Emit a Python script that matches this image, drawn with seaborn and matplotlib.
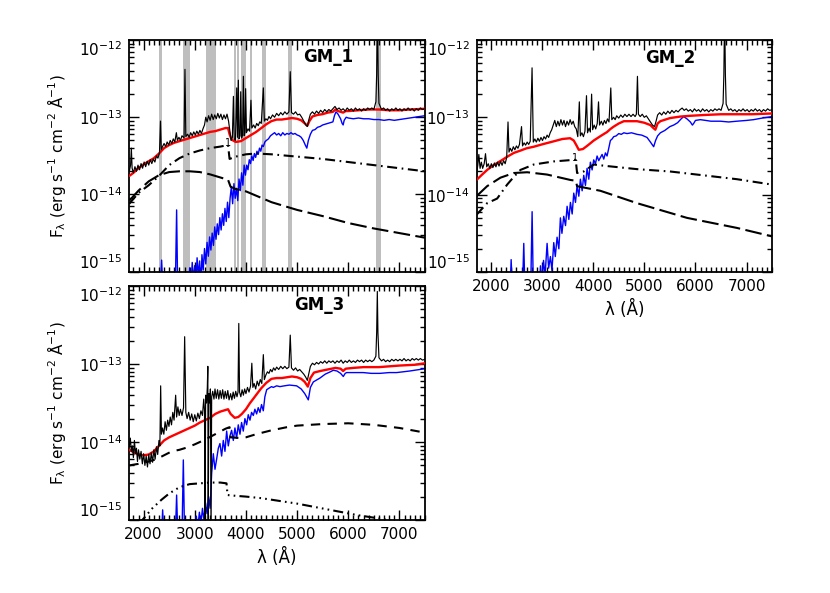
import numpy as np
import pandas as pd
import matplotlib
matplotlib.use("Agg")
import matplotlib.pyplot as plt
import seaborn as sns
from matplotlib.ticker import MultipleLocator, FixedLocator, NullFormatter

# ---------------- data (wavelength in Angstrom, log10 flux) ----------------
panel_names = ["GM_1", "GM_2", "GM_3"]
xlim = (1720, 7500)
ylim = (1e-15, 1e-12)
xticks = [2000, 3000, 4000, 5000, 6000, 7000]
ytick_exps = [-15, -14, -13, -12]

# masked regions (panel GM_1)
mask_bands = [(2300, 2350), (2760, 2900), (3210, 3410), (3760, 3800), (3830, 3870),
              (3895, 4000), (4080, 4115), (4310, 4400), (4815, 4910), (6540, 6635)]

gm1_obs = [(1720,-13.70),(1745,-13.62),(1760,-13.40),(1775,-13.66),(1800,-13.72),(1830,-13.64),(1860,-13.70),
    (1890,-13.62),(1920,-13.68),(1950,-13.60),(1980,-13.66),(2010,-13.58),(2040,-13.64),(2070,-13.57),
    (2100,-13.62),(2130,-13.55),(2160,-13.60),(2190,-13.54),(2220,-13.58),(2250,-13.50),(2280,-13.53),
    (2310,-13.46),(2330,-13.05),(2345,-13.42),(2370,-13.38),(2400,-13.34),(2430,-13.38),(2460,-13.32),
    (2490,-13.36),(2520,-13.30),(2550,-13.34),(2580,-13.28),(2610,-13.32),(2640,-13.20),(2660,-13.30),
    (2690,-13.26),(2720,-13.30),(2750,-13.24),(2790,-13.27),(2808,-12.38),(2825,-13.25),(2860,-13.22),
    (2890,-13.26),(2920,-13.20),(2950,-13.24),(2980,-13.19),(3010,-13.23),(3040,-13.18),(3070,-13.22),
    (3100,-13.17),(3130,-13.21),(3160,-13.15),(3190,-13.10),(3215,-13.00),(3240,-13.06),(3270,-12.98),
    (3300,-13.04),(3330,-12.96),(3360,-13.03),(3390,-12.97),(3420,-13.02),(3450,-12.95),(3480,-13.01),
    (3510,-12.96),(3540,-13.03),(3570,-12.97),(3600,-13.02),(3630,-12.96),(3660,-13.05),(3690,-13.20),
    (3710,-13.30),(3735,-13.26),(3755,-12.73),(3770,-13.28),(3795,-13.30),(3820,-12.62),(3835,-13.26),
    (3852,-12.52),(3865,-13.28),(3885,-13.24),(3898,-12.67),(3915,-13.27),(3935,-13.22),(3950,-12.47),
    (3965,-13.24),(3980,-13.20),(3994,-12.63),(4010,-13.20),(4040,-13.15),(4070,-13.18),(4098,-12.78),
    (4115,-13.14),(4150,-13.10),(4180,-13.14),(4210,-13.08),(4240,-13.11),(4270,-13.06),(4300,-13.08),
    (4340,-12.62),(4360,-13.05),(4390,-13.02),(4420,-13.04),(4450,-12.99),(4480,-13.02),(4520,-12.97),
    (4560,-13.00),(4600,-12.95),(4640,-12.98),(4680,-12.94),(4720,-12.97),(4760,-12.93),(4800,-12.96),
    (4840,-12.93),(4866,-12.41),(4890,-12.94),(4930,-12.96),(4970,-12.93),(5010,-12.97),(5050,-12.96),
    (5090,-13.00),(5130,-13.05),(5170,-13.10),(5200,-13.12),(5230,-13.03),(5260,-12.96),(5300,-12.93),
    (5340,-12.96),(5380,-12.92),(5420,-12.95),(5460,-12.91),(5500,-12.94),(5540,-12.90),(5580,-12.93),
    (5620,-12.90),(5660,-12.92),(5700,-12.89),(5740,-12.86),(5780,-12.90),(5820,-12.88),(5860,-12.91),
    (5900,-12.89),(5940,-12.92),(5980,-12.88),(6020,-12.91),(6060,-12.89),(6100,-12.92),(6140,-12.88),
    (6180,-12.91),(6220,-12.89),(6260,-12.92),(6300,-12.89),(6340,-12.91),(6380,-12.88),(6420,-12.90),
    (6460,-12.88),(6500,-12.90),(6540,-12.80),(6555,-12.45),(6565,-11.90),(6575,-11.90),(6585,-12.45),
    (6600,-12.82),(6650,-12.90),(6690,-12.88),(6730,-12.91),(6770,-12.89),(6810,-12.92),(6850,-12.89),
    (6890,-12.91),(6930,-12.88),(6970,-12.91),(7010,-12.89),(7050,-12.92),(7090,-12.89),(7130,-12.91),
    (7170,-12.88),(7210,-12.91),(7250,-12.89),(7290,-12.92),(7330,-12.89),(7370,-12.91),(7410,-12.88),
    (7450,-12.90),(7500,-12.89)]

gm1_model = [(1720,-13.76),(1800,-13.72),(1900,-13.66),(2000,-13.61),(2100,-13.57),(2200,-13.53),(2300,-13.47),
    (2400,-13.40),(2500,-13.36),(2600,-13.33),(2700,-13.31),(2800,-13.29),(2900,-13.27),(3000,-13.25),
    (3100,-13.23),(3200,-13.21),(3300,-13.19),(3400,-13.18),(3500,-13.16),(3600,-13.14),(3650,-13.14),
    (3680,-13.22),(3720,-13.29),(3800,-13.32),(3900,-13.31),(4000,-13.27),(4100,-13.23),(4200,-13.19),
    (4300,-13.14),(4400,-13.09),(4500,-13.05),(4600,-13.03),(4700,-13.03),(4800,-13.02),(4900,-13.01),
    (5000,-13.02),(5080,-13.04),(5150,-13.08),(5200,-13.11),(5240,-13.05),(5300,-12.99),(5400,-12.97),
    (5500,-12.96),(5600,-12.94),(5700,-12.93),(5750,-12.90),(5800,-12.92),(5900,-12.94),(5950,-12.92),
    (6000,-12.92),(6200,-12.91),(6400,-12.90),(6600,-12.90),(6800,-12.91),(7000,-12.91),(7200,-12.90),
    (7500,-12.89)]

gm1_stars = [(2330,-15.2),(2352,-14.85),(2375,-15.2),(2620,-15.2),(2645,-14.20),(2665,-15.2),(2880,-15.2),
    (2900,-14.95),(2925,-15.2),(2950,-14.88),(2975,-15.10),(3000,-14.92),(3020,-15.2),(3045,-14.82),
    (3070,-15.05),(3095,-14.86),(3120,-15.2),(3140,-14.78),(3165,-14.98),(3190,-14.70),(3215,-14.90),
    (3240,-14.62),(3265,-14.80),(3290,-14.55),(3315,-14.72),(3340,-14.50),(3365,-14.66),(3390,-14.42),
    (3415,-14.58),(3440,-14.38),(3465,-14.52),(3490,-14.30),(3515,-14.46),(3540,-14.25),(3565,-14.40),
    (3590,-14.18),(3615,-14.35),(3640,-14.10),(3665,-14.30),(3690,-14.05),(3715,-13.90),(3740,-14.12),
    (3765,-13.86),(3790,-14.05),(3815,-13.92),(3840,-14.08),(3865,-13.80),(3890,-13.95),(3915,-13.72),
    (3940,-13.88),(3965,-13.62),(3990,-13.75),(4015,-13.62),(4040,-13.68),(4065,-13.55),(4090,-13.60),
    (4115,-13.50),(4140,-13.56),(4165,-13.47),(4190,-13.52),(4215,-13.44),(4240,-13.48),(4265,-13.40),
    (4290,-13.44),(4315,-13.36),(4340,-13.38),(4370,-13.32),(4400,-13.30),(4440,-13.28),(4480,-13.24),
    (4520,-13.22),(4560,-13.20),(4600,-13.23),(4640,-13.21),(4680,-13.24),(4720,-13.20),(4760,-13.23),
    (4800,-13.21),(4840,-13.22),(4880,-13.20),(4920,-13.22),(4960,-13.21),(5000,-13.23),(5040,-13.24),
    (5080,-13.26),(5120,-13.30),(5160,-13.36),(5190,-13.40),(5220,-13.30),(5260,-13.22),(5300,-13.17),
    (5350,-13.16),(5400,-13.13),(5450,-13.12),(5500,-13.10),(5550,-13.09),(5600,-13.08),(5650,-13.07),
    (5700,-13.06),(5730,-12.98),(5760,-12.93),(5800,-12.96),(5850,-13.02),(5880,-13.08),(5900,-13.10),
    (5920,-13.04),(5960,-13.00),(6000,-13.01),(6100,-13.02),(6200,-13.01),(6300,-13.02),(6400,-13.02),
    (6500,-13.03),(6600,-13.03),(6700,-13.04),(6800,-13.03),(6900,-13.04),(7000,-13.03),(7100,-13.02),
    (7200,-13.01),(7300,-13.00),(7400,-12.99),(7500,-12.98)]

gm1_comp_a = [(1720,-14.12),(1900,-13.98),(2100,-13.88),(2300,-13.76),(2500,-13.62),(2700,-13.53),
    (2900,-13.47),(3100,-13.43),(3300,-13.40),(3500,-13.38),(3650,-13.36),(3680,-13.54),(3800,-13.51),
    (4000,-13.48),(4200,-13.47),(4500,-13.48),(5000,-13.51),(5500,-13.54),(6000,-13.58),(6500,-13.62),
    (7000,-13.66),(7500,-13.70)]

gm1_comp_b = [(1720,-14.08),(1900,-13.95),(2100,-13.83),(2300,-13.75),(2500,-13.71),(2700,-13.70),
    (2900,-13.70),(3100,-13.71),(3300,-13.74),(3500,-13.78),(3650,-13.81),(3700,-13.90),(3800,-13.93),
    (4000,-13.96),(4500,-14.10),(5000,-14.20),(5500,-14.28),(6000,-14.37),(6500,-14.44),(7000,-14.50),
    (7500,-14.56)]

gm2_obs = [(1720,-13.74),(1745,-13.62),(1766,-13.48),(1790,-13.66),(1815,-13.58),(1840,-13.66),(1870,-13.60),
    (1896,-13.47),(1920,-13.64),(1950,-13.60),(1980,-13.66),(2010,-13.60),(2040,-13.65),(2070,-13.59),
    (2100,-13.64),(2130,-13.58),(2160,-13.63),(2190,-13.57),(2220,-13.62),(2250,-13.56),(2280,-13.60),
    (2310,-13.52),(2336,-13.06),(2355,-13.45),(2380,-13.40),(2410,-13.44),(2440,-13.38),(2470,-13.42),
    (2500,-13.37),(2530,-13.40),(2560,-13.35),(2600,-13.12),(2620,-13.37),(2650,-13.33),(2680,-13.36),
    (2710,-13.32),(2740,-13.35),(2770,-13.31),(2806,-12.36),(2830,-13.32),(2860,-13.28),(2890,-13.32),
    (2920,-13.27),(2950,-13.31),(2980,-13.26),(3010,-13.30),(3040,-13.25),(3070,-13.28),(3100,-13.23),
    (3130,-13.26),(3160,-13.20),(3190,-13.16),(3220,-13.10),(3250,-13.04),(3280,-13.12),(3310,-13.05),
    (3340,-13.11),(3370,-13.03),(3400,-13.10),(3430,-13.04),(3460,-13.12),(3490,-13.05),(3520,-13.10),
    (3550,-13.03),(3580,-13.09),(3610,-13.05),(3640,-13.12),(3670,-13.15),(3700,-13.25),(3730,-12.80),
    (3750,-13.24),(3780,-13.20),(3810,-13.25),(3840,-13.18),(3870,-12.72),(3890,-13.20),(3920,-13.14),
    (3945,-13.19),(3970,-12.70),(3990,-13.16),(4020,-13.10),(4050,-13.15),(4080,-13.08),(4105,-12.80),
    (4125,-13.10),(4160,-13.05),(4190,-13.10),(4220,-13.04),(4250,-13.08),(4280,-13.02),(4310,-13.06),
    (4345,-12.62),(4365,-13.03),(4400,-13.00),(4430,-13.03),(4460,-12.98),(4500,-13.01),(4540,-12.97),
    (4580,-13.00),(4620,-12.96),(4660,-12.99),(4700,-12.96),(4740,-12.99),(4780,-12.96),(4820,-12.99),
    (4845,-12.96),(4866,-12.47),(4885,-12.96),(4920,-12.99),(4960,-12.96),(5000,-13.00),(5040,-12.98),
    (5080,-13.02),(5120,-13.06),(5160,-13.10),(5200,-13.12),(5230,-13.05),(5260,-12.97),(5300,-12.94),
    (5340,-12.97),(5380,-12.93),(5420,-12.96),(5460,-12.92),(5500,-12.95),(5540,-12.91),(5580,-12.94),
    (5620,-12.91),(5660,-12.93),(5700,-12.90),(5740,-12.88),(5780,-12.91),(5820,-12.89),(5860,-12.92),
    (5900,-12.90),(5940,-12.93),(5980,-12.89),(6020,-12.92),(6060,-12.90),(6100,-12.93),(6140,-12.89),
    (6180,-12.92),(6220,-12.90),(6260,-12.93),(6300,-12.90),(6340,-12.92),(6380,-12.89),(6420,-12.91),
    (6460,-12.89),(6500,-12.91),(6540,-12.82),(6555,-12.45),(6565,-11.90),(6575,-11.90),(6585,-12.45),
    (6600,-12.83),(6650,-12.91),(6690,-12.89),(6730,-12.92),(6770,-12.90),(6810,-12.93),(6850,-12.90),
    (6890,-12.92),(6930,-12.89),(6970,-12.92),(7010,-12.90),(7050,-12.93),(7090,-12.90),(7130,-12.92),
    (7170,-12.89),(7210,-12.92),(7250,-12.90),(7290,-12.93),(7330,-12.90),(7370,-12.92),(7410,-12.89),
    (7450,-12.91),(7500,-12.90)]

gm2_model = [(1720,-13.81),(1830,-13.74),(1928,-13.68),(2050,-13.62),(2200,-13.56),(2319,-13.51),
    (2450,-13.46),(2579,-13.43),(2700,-13.40),(2840,-13.38),(3000,-13.35),(3230,-13.31),(3400,-13.28),
    (3550,-13.27),(3621,-13.30),(3680,-13.37),(3719,-13.42),(3800,-13.41),(3900,-13.36),(4011,-13.30),
    (4150,-13.24),(4272,-13.19),(4340,-13.15),(4402,-13.12),(4500,-13.08),(4600,-13.05),(4750,-13.05),
    (4858,-13.05),(5000,-13.07),(5118,-13.10),(5180,-13.14),(5216,-13.16),(5260,-13.08),(5314,-13.05),
    (5500,-13.01),(5704,-12.99),(5900,-12.98),(6160,-12.97),(6500,-12.96),(6811,-12.96),(7100,-12.96),
    (7500,-12.95)]

gm2_stars = [(2380,-15.2),(2397,-14.84),(2420,-15.2),(2620,-15.2),(2644,-14.63),(2665,-15.2),(2780,-15.2),
    (2807,-14.22),(2830,-15.2),(2950,-15.2),(2970,-14.92),(3000,-15.10),(3030,-14.85),(3060,-15.05),
    (3100,-14.63),(3130,-14.95),(3165,-14.80),(3195,-14.98),(3230,-14.62),(3260,-14.80),(3295,-14.55),
    (3330,-14.70),(3360,-14.30),(3390,-14.50),(3425,-14.28),(3460,-14.40),(3491,-14.15),(3525,-14.32),
    (3556,-14.10),(3590,-14.25),(3621,-13.98),(3655,-14.10),(3686,-13.88),(3720,-14.02),(3751,-13.80),
    (3785,-13.95),(3816,-13.75),(3850,-13.88),(3881,-13.66),(3915,-13.80),(3946,-13.58),(3980,-13.68),
    (4011,-13.55),(4045,-13.60),(4077,-13.50),(4110,-13.56),(4142,-13.52),(4175,-13.48),(4207,-13.54),
    (4240,-13.46),(4272,-13.50),(4305,-13.40),(4337,-13.30),(4370,-13.28),(4402,-13.25),(4450,-13.24),
    (4500,-13.21),(4550,-13.22),(4600,-13.20),(4663,-13.21),(4750,-13.20),(4858,-13.22),(4950,-13.23),
    (5053,-13.26),(5120,-13.32),(5183,-13.38),(5220,-13.30),(5260,-13.24),(5314,-13.20),(5400,-13.17),
    (5500,-13.12),(5574,-13.10),(5650,-13.07),(5720,-13.02),(5769,-12.99),(5834,-13.02),(5900,-13.06),
    (5940,-13.10),(5964,-13.08),(6000,-13.04),(6095,-13.03),(6200,-13.04),(6300,-13.05),(6485,-13.05),
    (6650,-13.06),(6811,-13.05),(7000,-13.04),(7136,-13.03),(7300,-13.01),(7500,-12.99)]

gm2_comp_a = [(1720,-14.26),(1928,-14.11),(2124,-14.05),(2319,-13.87),(2449,-13.77),(2579,-13.68),
    (2840,-13.61),(3230,-13.57),(3621,-13.55),(3660,-13.55),(3686,-13.72),(3816,-13.70),(4011,-13.61),
    (4272,-13.63),(4858,-13.67),(5500,-13.70),(6160,-13.75),(6811,-13.80),(7500,-13.87)]

gm2_comp_b = [(1720,-14.02),(1928,-13.89),(2189,-13.78),(2449,-13.72),(2710,-13.71),(3100,-13.74),
    (3556,-13.81),(3660,-13.82),(3686,-13.89),(4142,-13.95),(4858,-14.11),(5834,-14.30),(6811,-14.43),
    (7500,-14.54)]

gm3_obs = [(1720,-14.06),(1740,-13.95),(1760,-14.12),(1780,-14.05),(1800,-14.20),(1820,-13.98),(1840,-14.15),
    (1860,-14.08),(1880,-14.25),(1900,-14.10),(1925,-14.22),(1950,-14.12),(1975,-14.28),(2000,-14.15),
    (2025,-14.30),(2050,-14.18),(2075,-14.32),(2100,-14.16),(2125,-14.28),(2150,-14.14),(2175,-14.26),
    (2200,-14.10),(2225,-14.22),(2250,-14.06),(2275,-14.16),(2300,-13.98),(2318,-14.05),(2333,-13.28),
    (2348,-13.90),(2370,-13.82),(2395,-13.90),(2420,-13.74),(2445,-13.85),(2470,-13.72),(2495,-13.80),
    (2520,-13.68),(2545,-13.78),(2570,-13.62),(2595,-13.72),(2626,-13.40),(2645,-13.68),(2670,-13.55),
    (2695,-13.66),(2720,-13.58),(2750,-13.66),(2780,-13.56),(2802,-12.65),(2825,-13.62),(2850,-13.70),
    (2880,-13.62),(2910,-13.72),(2940,-13.64),(2970,-13.74),(3000,-13.65),(3030,-13.73),(3060,-13.63),
    (3090,-13.70),(3120,-13.60),(3150,-13.66),(3175,-13.45),(3190,-13.60),(3200,-15.2),(3212,-13.40),
    (3230,-13.50),(3245,-13.30),(3255,-13.03),(3262,-15.2),(3275,-13.38),(3295,-13.50),(3305,-13.32),
    (3318,-15.2),(3330,-13.42),(3350,-13.35),(3375,-13.45),(3395,-13.32),(3420,-13.44),(3445,-13.33),
    (3470,-13.45),(3495,-13.34),(3520,-13.44),(3545,-13.33),(3570,-13.45),(3595,-13.35),(3620,-13.44),
    (3645,-13.34),(3670,-13.46),(3700,-13.38),(3725,-13.46),(3750,-13.36),(3775,-13.44),(3800,-13.35),
    (3825,-13.42),(3845,-13.36),(3860,-12.48),(3875,-13.36),(3900,-13.42),(3925,-13.33),(3950,-13.40),
    (3975,-13.32),(4000,-13.38),(4030,-13.30),(4060,-13.36),(4090,-13.28),(4115,-12.99),(4135,-13.30),
    (4160,-13.25),(4190,-13.32),(4220,-13.22),(4250,-13.28),(4280,-13.20),(4310,-13.25),(4340,-12.88),
    (4360,-13.20),(4390,-13.14),(4420,-13.10),(4450,-13.12),(4480,-13.07),(4510,-13.10),(4540,-13.05),
    (4570,-13.08),(4600,-13.04),(4640,-13.07),(4680,-13.03),(4720,-13.06),(4760,-13.03),(4800,-13.06),
    (4840,-13.04),(4866,-12.63),(4890,-13.05),(4930,-13.08),(4970,-13.05),(5010,-13.09),(5050,-13.07),
    (5090,-13.10),(5130,-13.13),(5170,-13.17),(5200,-13.21),(5230,-13.12),(5260,-13.03),(5300,-12.99),
    (5340,-13.01),(5380,-12.98),(5420,-13.00),(5460,-12.97),(5500,-12.99),(5540,-12.96),(5580,-12.99),
    (5620,-12.96),(5660,-12.98),(5700,-12.96),(5740,-12.99),(5780,-12.96),(5820,-12.98),(5860,-12.95),
    (5900,-12.99),(5940,-12.96),(5980,-12.98),(6020,-12.95),(6060,-12.98),(6100,-12.96),(6140,-12.98),
    (6180,-12.95),(6220,-12.97),(6260,-12.95),(6300,-12.98),(6340,-12.95),(6380,-12.97),(6420,-12.95),
    (6460,-12.97),(6500,-12.95),(6540,-12.90),(6555,-12.60),(6568,-12.07),(6580,-12.60),(6600,-12.92),
    (6650,-12.96),(6690,-12.94),(6730,-12.97),(6770,-12.95),(6810,-12.97),(6850,-12.94),(6890,-12.96),
    (6930,-12.94),(6970,-12.96),(7010,-12.94),(7050,-12.96),(7090,-12.93),(7130,-12.96),(7170,-12.94),
    (7210,-12.96),(7250,-12.93),(7290,-12.95),(7330,-12.93),(7370,-12.95),(7410,-12.93),(7450,-12.95),
    (7500,-12.94)]

gm3_model = [(1720,-14.10),(1800,-14.13),(1900,-14.16),(2000,-14.17),(2100,-14.16),(2200,-14.12),
    (2300,-14.05),(2400,-13.98),(2500,-13.94),(2600,-13.91),(2700,-13.88),(2800,-13.85),(2900,-13.82),
    (3000,-13.79),(3100,-13.75),(3200,-13.72),(3300,-13.69),(3400,-13.64),(3500,-13.61),(3600,-13.59),
    (3650,-13.58),(3700,-13.64),(3780,-13.69),(3850,-13.68),(3920,-13.64),(4000,-13.58),(4080,-13.50),
    (4150,-13.44),(4230,-13.37),(4300,-13.31),(4400,-13.24),(4500,-13.19),(4600,-13.18),(4700,-13.18),
    (4800,-13.17),(4900,-13.16),(5000,-13.17),(5080,-13.19),(5150,-13.23),(5210,-13.29),(5260,-13.18),
    (5330,-13.11),(5450,-13.09),(5600,-13.07),(5750,-13.05),(5850,-13.06),(5900,-13.09),(5950,-13.06),
    (6100,-13.05),(6300,-13.04),(6600,-13.04),(7000,-13.02),(7300,-13.01),(7500,-12.99)]

gm3_stars = [(2350,-15.2),(2372,-14.87),(2395,-15.2),(2620,-15.2),(2645,-14.68),(2668,-15.2),(2750,-15.2),
    (2776,-14.23),(2800,-15.2),(3000,-15.2),(3030,-14.95),(3060,-15.10),(3090,-14.90),(3120,-15.05),
    (3150,-14.85),(3180,-15.00),(3210,-14.78),(3240,-14.92),(3270,-14.70),(3300,-14.85),(3330,-14.40),
    (3362,-14.15),(3395,-14.35),(3427,-14.22),(3460,-14.08),(3492,-14.02),(3525,-14.18),(3557,-13.98),
    (3590,-14.12),(3623,-13.86),(3655,-14.05),(3688,-13.92),(3720,-13.85),(3753,-13.98),(3785,-13.82),
    (3818,-13.95),(3850,-13.78),(3883,-13.90),(3915,-13.75),(3948,-13.86),(3980,-13.70),(4014,-13.78),
    (4045,-13.65),(4079,-13.72),(4110,-13.62),(4144,-13.66),(4175,-13.58),(4209,-13.64),(4240,-13.56),
    (4274,-13.62),(4305,-13.52),(4339,-13.60),(4370,-13.42),(4405,-13.33),(4450,-13.31),(4500,-13.29),
    (4535,-13.30),(4600,-13.28),(4665,-13.29),(4750,-13.28),(4850,-13.27),(4991,-13.28),(5080,-13.32),
    (5150,-13.38),(5219,-13.46),(5260,-13.30),(5317,-13.23),(5447,-13.18),(5550,-13.13),(5650,-13.10),
    (5708,-13.08),(5780,-13.09),(5850,-13.12),(5903,-13.16),(5940,-13.12),(5968,-13.11),(6100,-13.11),
    (6294,-13.11),(6450,-13.12),(6620,-13.12),(6800,-13.11),(6946,-13.11),(7200,-13.09),(7500,-13.06)]

gm3_comp_a = [(1720,-14.30),(1900,-14.28),(2100,-14.25),(2250,-14.22),(2400,-14.17),(2550,-14.12),
    (2700,-14.10),(2850,-14.07),(3000,-14.03),(3200,-13.97),(3400,-13.90),(3600,-13.83),(3680,-13.81),
    (3700,-13.94),(3900,-13.95),(4000,-13.94),(4200,-13.90),(4500,-13.85),(4800,-13.81),(5000,-13.79),
    (5500,-13.77),(6000,-13.76),(6500,-13.78),(7000,-13.82),(7500,-13.88)]

gm3_comp_b = [(1900,-15.05),(1975,-15.00),(2170,-14.85),(2350,-14.74),(2500,-14.66),(2700,-14.58),
    (2900,-14.54),(3100,-14.53),(3300,-14.52),(3500,-14.52),(3620,-14.53),(3640,-14.68),(3800,-14.69),
    (4000,-14.70),(4300,-14.72),(4600,-14.75),(5000,-14.79),(5400,-14.84),(5800,-14.89),(6200,-14.94),
    (6600,-14.98),(7000,-15.03),(7500,-15.08)]

title_pos = {"GM_1": (5600, -12.22), "GM_2": (5500, -12.23), "GM_3": (5440, -12.24)}
label_one = {"GM_1": (3650, -13.34), "GM_2": (3655, -13.52)}

# ---------------- styling ----------------
sns.set_theme(style="ticks")
plt.rcParams["font.family"] = ["DejaVu Sans"]
plt.rcParams["mathtext.fontset"] = "dejavusans"
for key in ["text.color", "axes.labelcolor", "xtick.color", "ytick.color", "axes.edgecolor"]:
    plt.rcParams[key] = "black"

DASHDOT = (0, (4.8, 2.2, 0.8, 2.2))
LONGDASH = (0, (8, 2.6))
SHORTDASH = (0, (4.5, 3.5))
DASH3DOT = (0, (4.8, 2.0, 0.8, 2.0, 0.8, 2.0, 0.8, 2.0))

fig = plt.figure(figsize=(8.3, 5.93), dpi=100)
W, H = 830, 593
ax1 = fig.add_axes([129.3 / W, 1 - 271.7 / H, 295.7 / W, 231.7 / H])
ax2 = fig.add_axes([476.5 / W, 1 - 272.0 / H, 295.7 / W, 232.0 / H])
ax3 = fig.add_axes([129.3 / W, 1 - 520.0 / H, 295.7 / W, 234.0 / H])


def to_df(pairs):
    arr = np.array(pairs, dtype=float)
    return pd.DataFrame({"wave": arr[:, 0], "flux": 10 ** arr[:, 1]})


def line(ax, pairs, **kw):
    d = to_df(pairs)
    sns.lineplot(data=d, x="wave", y="flux", ax=ax, estimator=None, sort=False,
                 legend=False, **kw)


panels = [
    (ax1, "GM_1", gm1_obs, gm1_model, gm1_stars, gm1_comp_a, DASHDOT, gm1_comp_b, LONGDASH),
    (ax2, "GM_2", gm2_obs, gm2_model, gm2_stars, gm2_comp_a, DASHDOT, gm2_comp_b, LONGDASH),
    (ax3, "GM_3", gm3_obs, gm3_model, gm3_stars, gm3_comp_a, SHORTDASH, gm3_comp_b, DASH3DOT),
]

yticks = [10.0 ** e for e in ytick_exps]
yticklabels = [r"$\mathregular{10^{%d}}$" % e for e in ytick_exps]
minor_y = [m * 10.0 ** e for e in ytick_exps[:-1] for m in range(2, 10)]

for ax, name, obs, model, stars, ca, sa, cb, sb in panels:
    ax.set_yscale("log")
    if name == "GM_1":
        for lo, hi in mask_bands:
            ax.axvspan(lo, hi, color="#bebebe", lw=0, zorder=0)
    line(ax, stars, color="#0000ff", lw=1.0, zorder=2)
    line(ax, ca, color="black", lw=1.5, linestyle=sa, zorder=3)
    line(ax, cb, color="black", lw=1.5, linestyle=sb, zorder=3)
    line(ax, model, color="#ff0000", lw=1.7, zorder=4)
    line(ax, obs, color="black", lw=0.85, zorder=5)
    ax.set_xlim(*xlim)
    ax.set_ylim(*ylim)
    tx, ty = title_pos[name]
    ax.text(tx, 10 ** ty, name, ha="center", va="center", fontsize=12, fontweight="bold")
    if name in label_one:
        lx, ly = label_one[name]
        ax.text(lx, 10 ** ly, "1", ha="center", va="center", fontsize=7)
    ax.set_xticks(xticks)
    ax.xaxis.set_minor_locator(MultipleLocator(100))
    ax.yaxis.set_major_locator(FixedLocator(yticks))
    ax.set_yticklabels(yticklabels)
    ax.yaxis.set_minor_locator(FixedLocator(minor_y))
    ax.yaxis.set_minor_formatter(NullFormatter())
    ax.tick_params(which="both", direction="in", top=True, right=True, labelsize=11, width=1)
    ax.tick_params(which="major", length=7, pad=5)
    ax.tick_params(which="minor", length=3.5)
    labs = ax.get_yticklabels()
    labs[0].set_verticalalignment("bottom")
    labs[-1].set_verticalalignment("top")
    for s in ax.spines.values():
        s.set_linewidth(1.3)
    ax.set_xlabel("")
    ax.set_ylabel("")

ax1.tick_params(labelbottom=False)
ylab = "F$\\mathregular{_λ}$ (erg s$\\mathregular{^{-1}}$ cm$\\mathregular{^{-2}}$ Å$\\mathregular{^{-1}}$)"
ax1.set_ylabel(ylab, fontsize=11, labelpad=8)
ax3.set_ylabel(ylab, fontsize=11, labelpad=8)
ax2.set_xlabel("λ (Å)", fontsize=12, labelpad=4)
ax3.set_xlabel("λ (Å)", fontsize=12, labelpad=4)

fig.savefig("out.png", dpi=100)
